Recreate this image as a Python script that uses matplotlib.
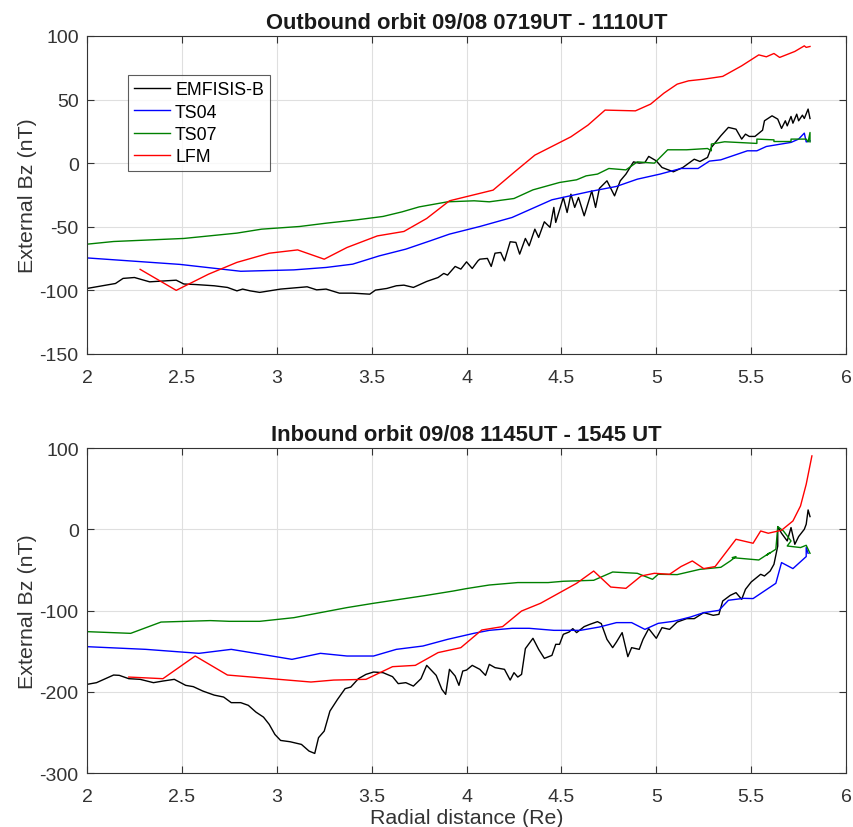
import numpy as np
import matplotlib
matplotlib.use("Agg")
import matplotlib.pyplot as plt

plt.rcParams['font.family'] = ['Liberation Sans', 'DejaVu Sans']
plt.rcParams['axes.unicode_minus'] = False

# ---- outbound orbit (top panel) ----
out_emf_r = [2.00, 2.15, 2.19, 2.25, 2.33, 2.47, 2.51, 2.57, 2.67, 2.74, 2.79, 2.82, 2.86, 2.91,
             3.02, 3.16, 3.21, 3.26, 3.33, 3.40, 3.49, 3.52, 3.58, 3.63, 3.67, 3.72, 3.79, 3.85,
             3.88, 3.90, 3.94, 3.97, 4.00, 4.03, 4.06, 4.07, 4.11, 4.13, 4.15, 4.18, 4.20, 4.23,
             4.26, 4.28, 4.31, 4.33, 4.36, 4.38, 4.41, 4.44, 4.46, 4.47, 4.51, 4.53, 4.55, 4.57,
             4.59, 4.62, 4.66, 4.68, 4.70, 4.74, 4.78, 4.81, 4.84, 4.88, 4.91, 4.94, 4.96, 5.00,
             5.03, 5.09, 5.14, 5.20, 5.23, 5.27, 5.29, 5.34, 5.38, 5.42, 5.45, 5.47, 5.49, 5.52,
             5.56, 5.57, 5.61, 5.64, 5.66, 5.68, 5.69, 5.71, 5.72, 5.74, 5.75, 5.77, 5.78, 5.80, 5.81]
out_emf_bz = [-98.5, -94.6, -90.6, -89.9, -93.3, -92, -95, -95.4, -96.4, -97.7, -100.4, -99, -100.4, -101.6,
              -99, -97.2, -99.6, -99, -102.2, -102.2, -103, -99.8, -98.5, -96.4, -95.9, -97.7, -93, -89.9,
              -86.7, -88, -81.2, -83.3, -77.6, -82.8, -76.8, -75.5, -74.9, -81.2, -70.8, -70.2, -76.8, -61.8,
              -62.3, -71.5, -59.2, -65, -51.9, -58.4, -46.1, -50.5, -34.8, -46.6, -27, -38.8, -24.4, -34.8,
              -27, -41.4, -21.8, -34.8, -19.9, -13.9, -25.7, -13.9, -8.6, 1.0, 0, 0.5, 5.3, 1.8,
              -3.4, -6.8, -3.4, 3.1, 1.3, 4.5, 12.3, 21.5, 28.1, 26.7, 18.9, 22.8, 21, 21,
              25.9, 33.3, 37.2, 34.6, 27.3, 33.3, 29.3, 36.7, 31.4, 38.5, 33.3, 37.7, 35.1, 42.5, 35.1]

out_ts04_r = [2.00, 2.49, 2.81, 3.09, 3.26, 3.40, 3.54, 3.68, 3.81, 3.91, 4.07, 4.24, 4.45, 4.65,
              4.79, 4.90, 5.02, 5.13, 5.22, 5.28, 5.34, 5.48, 5.53, 5.58, 5.71, 5.75, 5.78, 5.79, 5.81]
out_ts04_bz = [-74.5, -79.6, -85, -83.9, -82, -79.4, -72.9, -67.6, -61, -55.8, -49.8, -42.7, -28.8, -22.3,
               -18.3, -12.6, -8.6, -4.2, -4.2, 1.6, 2.6, 9.7, 9.7, 13.1, 16.3, 18.9, 23.6, 16.7, 17.5]

out_ts07_r = [2.00, 2.14, 2.51, 2.79, 2.92, 3.12, 3.26, 3.42, 3.56, 3.66, 3.75, 3.90, 4.04, 4.12,
              4.25, 4.35, 4.49, 4.58, 4.63, 4.69, 4.75, 4.84, 4.90, 4.99, 5.06, 5.16, 5.27, 5.29,
              5.29, 5.36, 5.53, 5.53, 5.62, 5.62, 5.71, 5.71, 5.79, 5.80, 5.81, 5.81]
out_ts07_bz = [-63.7, -61.6, -59.2, -55, -51.9, -49.8, -47.2, -44.6, -41.9, -38.3, -34.4, -30.4, -29.6, -30.4,
               -27.8, -21, -15.2, -13.1, -10, -8.6, -4.2, -5.3, 1, 0, 10.5, 10.5, 11.5, 9.7,
               15, 16.8, 15.5, 18.9, 18.3, 17, 17, 18.9, 18.9, 16.7, 24.1, 16.7]

out_lfm_r = [2.28, 2.47, 2.64, 2.79, 2.96, 3.11, 3.25, 3.37, 3.53, 3.67, 3.79, 3.91, 4.14, 4.25,
             4.36, 4.55, 4.64, 4.73, 4.89, 4.97, 5.04, 5.11, 5.17, 5.25, 5.35, 5.45, 5.54, 5.58,
             5.62, 5.65, 5.73, 5.78, 5.79, 5.81]
out_lfm_bz = [-83.5, -100, -87.3, -78, -70.8, -68.2, -75.5, -66.3, -57.2, -53.7, -43.5, -29.6, -21.2, -7.3,
              6.3, 20.7, 29.9, 41.7, 41.1, 46.4, 55, 62.1, 64.7, 66, 68.2, 76.5, 85.1, 83.6,
              86.2, 83.1, 87.8, 92.2, 91, 91.7]

# ---- inbound orbit (bottom panel) ----
in_emf_r = [2.00, 2.05, 2.14, 2.17, 2.22, 2.28, 2.35, 2.40, 2.46, 2.52, 2.56, 2.61, 2.67, 2.72,
            2.76, 2.81, 2.85, 2.89, 2.93, 2.96, 2.99, 3.02, 3.07, 3.13, 3.17, 3.20, 3.22, 3.25,
            3.28, 3.32, 3.36, 3.39, 3.43, 3.47, 3.51, 3.56, 3.61, 3.64, 3.68, 3.72, 3.76, 3.79,
            3.84, 3.87, 3.89, 3.91, 3.94, 3.96, 3.98, 4.00, 4.03, 4.07, 4.10, 4.12, 4.15, 4.20,
            4.23, 4.25, 4.27, 4.29, 4.31, 4.35, 4.38, 4.41, 4.45, 4.47, 4.49, 4.51, 4.54, 4.56,
            4.58, 4.62, 4.65, 4.69, 4.71, 4.74, 4.77, 4.79, 4.82, 4.85, 4.87, 4.91, 4.93, 4.96,
            5.00, 5.03, 5.07, 5.11, 5.16, 5.20, 5.25, 5.30, 5.33, 5.35, 5.39, 5.42, 5.45, 5.47,
            5.50, 5.55, 5.57, 5.60, 5.62, 5.64, 5.64, 5.66, 5.69, 5.71, 5.73, 5.75, 5.78, 5.79,
            5.80, 5.81]
in_emf_bz = [-190.9, -188.8, -179.4, -179.8, -183.9, -184.7, -188.8, -186.8, -184.7, -192.1, -193.7, -199.1, -204.1, -206.5,
             -213.4, -213.4, -216.7, -225, -231.2, -240.1, -252.5, -259.9, -261.5, -264.8, -273, -275.9, -256.5, -248.4,
             -223.8, -209.4, -196.2, -194.2, -183.9, -178.6, -175.7, -176.5, -181.4, -190, -188.8, -193, -183.9, -167.5,
             -179.8, -197, -203.2, -172.4, -180.6, -192.1, -174.5, -173.3, -167.5, -172.4, -179.8, -166.3, -170.3, -172.4,
             -185.6, -176.5, -181.9, -178.6, -146.9, -134.2, -147.8, -158.9, -155.2, -141.6, -141.6, -129.3, -126.5, -122.3,
             -127.2, -119.8, -117, -113.7, -116.1, -135.5, -145.7, -138.8, -127.2, -156.8, -145.7, -147.8, -135.5, -122.3,
             -134.2, -121.1, -123.2, -114.2, -110, -110, -102.6, -105.9, -104.7, -88.3, -81.3, -78, -86.2, -73.9,
             -64.9, -55.4, -57.5, -51.4, -43.1, -20.6, 3.3, -4.9, -14.4, 2.1, -18.5, -9, 0, 6.2,
             23.8, 15.6]

in_ts04_r = [2.00, 2.31, 2.59, 2.76, 2.92, 3.08, 3.23, 3.37, 3.51, 3.63, 3.77, 3.90, 4.04, 4.12,
             4.24, 4.33, 4.46, 4.60, 4.70, 4.79, 4.87, 4.94, 5.01, 5.09, 5.18, 5.25, 5.33, 5.38,
             5.46, 5.51, 5.63, 5.66, 5.72, 5.79, 5.79, 5.80]
in_ts04_bz = [-144.5, -147.8, -152.7, -147.8, -153.9, -160.1, -152.7, -156, -156, -147.8, -143.7, -135.5, -128, -124.4,
              -121.9, -121.9, -124.4, -124.4, -120.3, -114.9, -114.9, -123.2, -115.8, -113.3, -108, -102.6, -99.8, -87.4,
              -85, -85.3, -66.5, -41, -48.4, -33.6, -22.5, -29.6]

in_ts07_r = [2.00, 2.23, 2.39, 2.65, 2.75, 2.91, 3.09, 3.23, 3.37, 3.51, 3.65, 3.79, 3.93, 4.00,
             4.12, 4.27, 4.43, 4.51, 4.67, 4.77, 4.90, 4.98, 5.01, 5.11, 5.23, 5.34, 5.39, 5.42,
             5.40, 5.54, 5.60, 5.58, 5.63, 5.64, 5.67, 5.71, 5.69, 5.76, 5.79, 5.81]
in_ts07_bz = [-126, -128.1, -114.2, -112.4, -113.3, -113.3, -108.8, -102.6, -96.4, -91.1, -86.2, -81.3, -76, -73,
              -68.6, -65.6, -65.6, -64, -62.8, -52.6, -54.2, -61.6, -55.4, -55.8, -49.3, -46.8, -39, -33.6,
              -34.9, -37.8, -28.7, -32, -24.6, 3.3, -2.1, -14.4, -20.6, -22.5, -19.7, -29.6]

in_lfm_r = [2.22, 2.40, 2.57, 2.74, 3.18, 3.30, 3.47, 3.61, 3.73, 3.85, 3.97, 4.08, 4.19, 4.29,
            4.39, 4.58, 4.67, 4.76, 4.84, 4.92, 4.99, 5.07, 5.13, 5.19, 5.25, 5.31, 5.42, 5.51,
            5.55, 5.59, 5.66, 5.72, 5.76, 5.79, 5.82]
in_lfm_bz = [-181.9, -183.9, -156, -179.4, -188, -185.6, -184.7, -169.1, -167.5, -151.8, -145.7, -124, -119.8, -100.6,
             -91.1, -66.5, -51.4, -71.1, -72.7, -57.5, -54.2, -55.4, -45.9, -39, -48.4, -45.9, -12.3, -17.2,
             -2.1, -4.9, -1.2, 10.2, 28.7, 55.4, 90.3]

labels = ['EMFISIS-B', 'TS04', 'TS07', 'LFM']
colors = ['black', 'blue', 'green', 'red']
txt = '#333333'

fig = plt.figure(figsize=(8.54, 8.28), dpi=100)
ax1 = fig.add_axes([0.1019, 0.5713, 0.8888, 0.3841])
ax2 = fig.add_axes([0.1019, 0.0652, 0.8888, 0.3925])

panels = [
    (ax1, [(out_emf_r, out_emf_bz), (out_ts04_r, out_ts04_bz), (out_ts07_r, out_ts07_bz), (out_lfm_r, out_lfm_bz)],
     'Outbound orbit 09/08 0719UT - 1110UT', (-150, 100), np.arange(-150, 101, 50)),
    (ax2, [(in_emf_r, in_emf_bz), (in_ts04_r, in_ts04_bz), (in_ts07_r, in_ts07_bz), (in_lfm_r, in_lfm_bz)],
     'Inbound orbit 09/08 1145UT - 1545 UT', (-300, 100), np.arange(-300, 101, 100)),
]

for ax, series, title, ylim, yt in panels:
    for (r, bz), lab, c in zip(series, labels, colors):
        ax.plot(r, bz, color=c, lw=1.0, label=lab)
    ax.set_xlim(2, 6)
    ax.set_ylim(*ylim)
    ax.set_xticks(np.arange(2, 6.01, 0.5))
    ax.set_xticklabels(['2', '2.5', '3', '3.5', '4', '4.5', '5', '5.5', '6'])
    ax.set_yticks(yt)
    ax.grid(True, color='#dfdfdf', lw=0.8)
    ax.set_axisbelow(True)
    ax.tick_params(direction='in', top=True, right=True, length=5, width=0.8,
                   labelsize=14, colors=txt)
    ax.tick_params(axis='x', pad=11)
    ax.tick_params(axis='y', pad=6)
    for s in ax.spines.values():
        s.set_color(txt)
        s.set_linewidth(0.8)
    ax.set_title(title, fontsize=15.8, fontweight='bold', color='#1a1a1a', pad=6)
    ax.set_ylabel('External Bz (nT)', fontsize=15.4, color=txt, labelpad=2)

ax2.set_xlabel('Radial distance (Re)', fontsize=15.4, color=txt, labelpad=2)

leg = ax1.legend(loc='upper left', bbox_to_anchor=(0.054, 0.877), borderaxespad=0,
                 fontsize=12.8, frameon=True, fancybox=False, handlelength=2.0,
                 handletextpad=0.3, labelspacing=0.3, borderpad=0.35)
leg.get_frame().set_edgecolor(txt)
leg.get_frame().set_linewidth(0.8)

fig.savefig('out.png', dpi=100)
